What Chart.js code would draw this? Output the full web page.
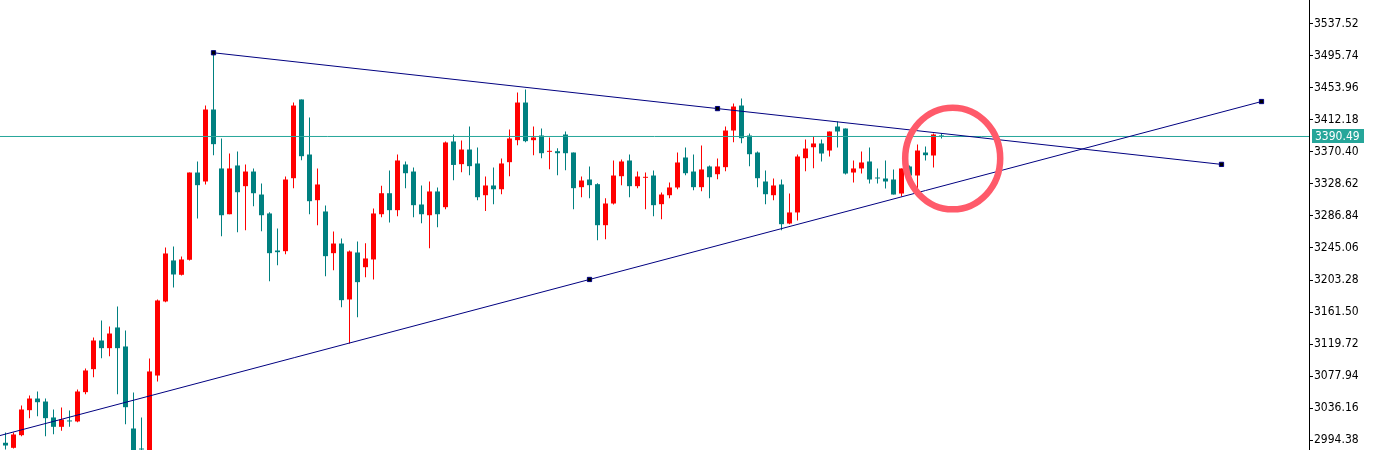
<!DOCTYPE html>
<html>
<head>
<meta charset="utf-8">
<script src="https://cdn.jsdelivr.net/npm/chart.js@4"></script>
<style>
  html, body { margin: 0; padding: 0; background: #fff; overflow: hidden; }
  #wrap { width: 1378px; height: 450px; position: relative; }
</style>
</head>
<body>
<div id="wrap"><canvas id="priceChart"></canvas></div>
<script>
// candles, oldest first (one per bar index)
const opens = [
    2991.0, 2984.4, 3000.9, 3033.5, 3048.7, 3044.8, 3024.0, 3011.8, 3020.1, 3018.8,
    3057.0, 3087.0, 3124.4, 3114.4, 3141.4, 3116.6, 3009.6, 2983.5, 2966.6, 3078.7,
    3175.3, 3228.8, 3210.1, 3229.7, 3343.5, 3331.8, 3425.7, 3348.8, 3289.1, 3352.7,
    3325.7, 3344.8, 3314.8, 3290.1, 3241.8, 3240.9, 3336.1, 3438.8, 3367.0, 3307.4,
    3292.7, 3238.3, 3250.9, 3177.9, 3239.2, 3220.0, 3230.1, 3289.1, 3316.5, 3294.4,
    3354.0, 3344.8, 3301.8, 3287.8, 3318.8, 3298.3, 3384.0, 3354.4, 3373.5, 3355.3,
    3313.9, 3326.6, 3321.7, 3357.0, 3385.7, 3434.8, 3385.7, 3391.8, 3370.5, 3371.3,
    3393.1, 3369.6, 3324.4, 3334.4, 3328.3, 3274.8, 3303.1, 3338.7, 3359.2, 3325.7,
    3336.6, 3339.6, 3302.2, 3313.9, 3324.0, 3363.1, 3344.8, 3324.4, 3351.4, 3341.3,
    3350.5, 3398.3, 3430.9, 3391.8, 3369.6, 3331.8, 3313.9, 3327.9, 3277.0, 3291.4,
    3362.2, 3376.5, 3381.4, 3372.2, 3403.5, 3400.9, 3343.5, 3348.8, 3357.9, 3337.0,
    3335.7, 3334.4, 3316.1, 3351.4, 3339.6, 3369.6, 3365.7, 3391.8
];
const highs = [
    3004.4, 3004.4, 3039.6, 3052.7, 3057.9, 3048.7, 3034.4, 3037.0, 3033.1, 3060.5,
    3087.9, 3128.3, 3150.5, 3142.7, 3168.8, 3137.4, 3056.6, 3024.0, 3100.9, 3177.9,
    3245.7, 3247.0, 3234.0, 3343.5, 3357.9, 3430.9, 3499.7, 3387.9, 3368.3, 3370.9,
    3354.0, 3348.8, 3329.3, 3291.7, 3270.5, 3338.3, 3434.8, 3438.8, 3415.3, 3348.8,
    3300.5, 3266.6, 3257.4, 3241.8, 3253.5, 3251.3, 3296.6, 3326.2, 3346.2, 3367.0,
    3357.9, 3350.1, 3326.6, 3331.8, 3324.0, 3384.0, 3393.1, 3385.3, 3403.5, 3376.1,
    3338.3, 3350.1, 3361.8, 3399.6, 3447.9, 3451.8, 3403.5, 3400.9, 3389.2, 3375.2,
    3397.0, 3369.6, 3338.3, 3351.4, 3329.6, 3310.0, 3359.2, 3360.5, 3367.0, 3344.8,
    3343.5, 3346.2, 3317.5, 3330.5, 3369.6, 3376.1, 3367.0, 3378.8, 3352.7, 3361.8,
    3403.5, 3433.5, 3440.1, 3394.4, 3370.9, 3346.2, 3335.7, 3334.4, 3316.1, 3367.0,
    3386.6, 3390.5, 3386.6, 3397.0, 3410.1, 3400.9, 3359.2, 3370.9, 3376.1, 3348.8,
    3359.2, 3347.5, 3348.8, 3352.7, 3380.1, 3377.5, 3394.4, 3394.4
];
const lows = [
    2982.2, 2983.5, 2999.6, 3023.1, 3025.7, 2999.6, 3002.2, 3006.6, 3011.8, 3017.9,
    3054.4, 3076.5, 3101.3, 3103.9, 3054.4, 3015.2, 2956.1, 2979.6, 2958.7, 3071.0,
    3174.4, 3193.5, 3209.2, 3228.8, 3283.5, 3327.9, 3366.1, 3260.4, 3289.1, 3265.7,
    3268.3, 3299.6, 3267.0, 3201.8, 3222.6, 3236.8, 3323.1, 3359.6, 3289.1, 3274.8,
    3208.3, 3216.1, 3167.8, 3120.5, 3154.8, 3207.0, 3204.0, 3285.2, 3278.3, 3286.6,
    3323.1, 3285.2, 3277.4, 3244.8, 3272.2, 3295.7, 3333.5, 3343.9, 3340.0, 3307.4,
    3293.3, 3302.2, 3315.2, 3338.7, 3379.1, 3383.1, 3366.1, 3362.2, 3347.9, 3340.0,
    3346.6, 3295.7, 3311.3, 3310.0, 3255.1, 3256.5, 3301.8, 3327.0, 3311.3, 3323.1,
    3295.7, 3286.6, 3282.6, 3310.0, 3321.7, 3340.0, 3320.5, 3319.1, 3310.0, 3334.8,
    3345.2, 3383.1, 3381.8, 3351.8, 3324.4, 3302.2, 3307.4, 3268.3, 3276.1, 3280.9,
    3345.2, 3349.2, 3357.9, 3364.4, 3376.1, 3340.9, 3330.5, 3342.2, 3329.2, 3329.2,
    3322.7, 3314.8, 3312.2, 3334.4, 3321.4, 3359.2, 3350.1, 3387.9
];
const closes = [
    2987.4, 3001.8, 3034.4, 3048.7, 3043.9, 3023.1, 3011.8, 3021.4, 3018.8, 3057.9,
    3085.3, 3124.4, 3114.4, 3133.5, 3114.4, 3037.4, 2962.7, 2982.2, 3084.0, 3176.6,
    3237.9, 3210.5, 3230.1, 3343.5, 3327.0, 3425.7, 3380.5, 3287.8, 3348.8, 3317.8,
    3344.8, 3316.5, 3287.8, 3238.3, 3239.6, 3334.4, 3430.9, 3364.8, 3306.1, 3327.9,
    3234.4, 3250.9, 3177.0, 3240.5, 3200.5, 3231.4, 3290.1, 3316.5, 3294.4, 3359.2,
    3342.6, 3300.9, 3289.1, 3318.8, 3289.1, 3382.7, 3353.4, 3373.5, 3351.8, 3311.3,
    3326.6, 3321.7, 3355.3, 3387.9, 3434.8, 3384.4, 3389.2, 3368.7, 3371.3, 3368.7,
    3368.7, 3323.1, 3333.1, 3327.0, 3274.8, 3303.1, 3339.6, 3357.9, 3325.7, 3338.3,
    3337.4, 3300.9, 3314.8, 3324.0, 3356.6, 3342.6, 3324.4, 3347.5, 3337.4, 3351.4,
    3398.3, 3429.6, 3388.3, 3367.4, 3336.1, 3315.2, 3326.6, 3276.1, 3291.4, 3364.4,
    3374.8, 3381.4, 3368.3, 3397.0, 3397.0, 3342.2, 3348.8, 3356.6, 3334.4, 3335.7,
    3331.8, 3314.8, 3348.8, 3339.6, 3372.2, 3366.1, 3393.1, 3390.49
];

const tickValues = [3537.52, 3495.74, 3453.96, 3412.18, 3370.40, 3328.62, 3286.84,
    3245.06, 3203.28, 3161.50, 3119.72, 3077.94, 3036.16, 2994.38];
const currentPrice = 3390.49;

// trendlines: bar index / price of the three handles
const upperTrendX = [26, 89, 152];
const upperTrendY = [3499.7, 3426.9, 3354.1];
const lowerTrendX = [-11, 73, 157];
const lowerTrendY = [2971.9, 3204.0, 3436.1];

// highlight circle centre (bar index / price)
const markX = 118.4;
const markY = 3361.8;

const X_MIN = -0.6875, X_MAX = 162.9375;
const Y_MIN = 2981.56, Y_MAX = 3568.54;

const UP = "#ff0000", DOWN = "#008080", TREND = "#000080", BID = "#26a69a";
const FONT = "'DejaVu Sans Condensed', 'DejaVu Sans', sans-serif";

const idx = opens.map((_, i) => i);
const colors = idx.map(i => closes[i] > opens[i] ? UP : DOWN);

function trend(xs, ys) {
    return xs.map((x, i) => ({ x: x, y: ys[i] }));
}

const overlay = {
    id: "overlay",
    afterDatasetsDraw(chart) {
        const { ctx, scales: { x, y } } = chart;
        ctx.save();
        ctx.strokeStyle = "#ff5a6a";
        ctx.lineWidth = 6.5;
        ctx.beginPath();
        ctx.ellipse(x.getPixelForValue(markX), y.getPixelForValue(markY), 47.5, 50.8, 0, 0, Math.PI * 2);
        ctx.stroke();
        ctx.restore();
    },
    afterDraw(chart) {
        // bid price tag on the axis
        const { ctx, chartArea, scales: { y } } = chart;
        const py = y.getPixelForValue(currentPrice);
        ctx.save();
        ctx.fillStyle = BID;
        ctx.fillRect(chartArea.right + 3, Math.round(py) - 7, 52, 14);
        ctx.fillStyle = "#ffffff";
        ctx.font = "12px " + FONT;
        ctx.textBaseline = "middle";
        ctx.fillText(currentPrice.toFixed(2), chartArea.right + 6, py + 0.5);
        ctx.restore();
    }
};

new Chart(document.getElementById("priceChart"), {
    type: "bar",
    data: {
        datasets: [
            {
                label: "body",
                data: idx.map(i => ({ x: i, y: [opens[i], closes[i]] })),
                backgroundColor: colors,
                barThickness: 5,
                minBarLength: 1,
                grouped: false,
                inflateAmount: 0,
                borderWidth: 0
            },
            {
                label: "wick",
                data: idx.map(i => ({ x: i, y: [lows[i], highs[i]] })),
                backgroundColor: colors,
                barThickness: 1,
                minBarLength: 1,
                grouped: false,
                inflateAmount: 0,
                borderWidth: 0
            },
            {
                type: "line",
                label: "bid",
                data: [{ x: X_MIN, y: currentPrice }, { x: X_MAX, y: currentPrice }],
                borderColor: BID,
                borderWidth: 1,
                pointRadius: 0,
                order: -1
            },
            {
                type: "line",
                label: "upper",
                data: trend(upperTrendX, upperTrendY),
                borderColor: TREND,
                borderWidth: 1,
                pointStyle: "rect",
                pointRadius: [3, 3, 3],
                pointBackgroundColor: "#000000",
                pointBorderColor: TREND,
                pointBorderWidth: 1,
                order: -2
            },
            {
                type: "line",
                label: "lower",
                data: trend(lowerTrendX, lowerTrendY),
                borderColor: TREND,
                borderWidth: 1,
                pointStyle: "rect",
                pointRadius: [0, 3, 3],
                pointBackgroundColor: "#000000",
                pointBorderColor: TREND,
                pointBorderWidth: 1,
                order: -2
            }
        ]
    },
    options: {
        responsive: true,
        maintainAspectRatio: false,
        animation: false,
        events: [],
        layout: { padding: 0, autoPadding: false },
        plugins: { legend: { display: false }, tooltip: { enabled: false } },
        scales: {
            x: {
                type: "linear",
                min: X_MIN,
                max: X_MAX,
                offset: false,
                display: false
            },
            y: {
                position: "right",
                min: Y_MIN,
                max: Y_MAX,
                afterBuildTicks: (scale) => { scale.ticks = tickValues.map(v => ({ value: v })); },
                afterFit: (scale) => { scale.width = 69; scale.paddingTop = 0; scale.paddingBottom = 0; },
                grid: { drawOnChartArea: false, drawTicks: true, tickLength: 4, color: "#000000" },
                border: { display: true, color: "#000000" },
                ticks: {
                    color: "#000000",
                    font: { family: FONT, size: 12 },
                    padding: 1,
                    autoSkip: false,
                    callback: (v) => Number(v).toFixed(2)
                }
            }
        }
    },
    plugins: [overlay]
});
</script>
</body>
</html>
